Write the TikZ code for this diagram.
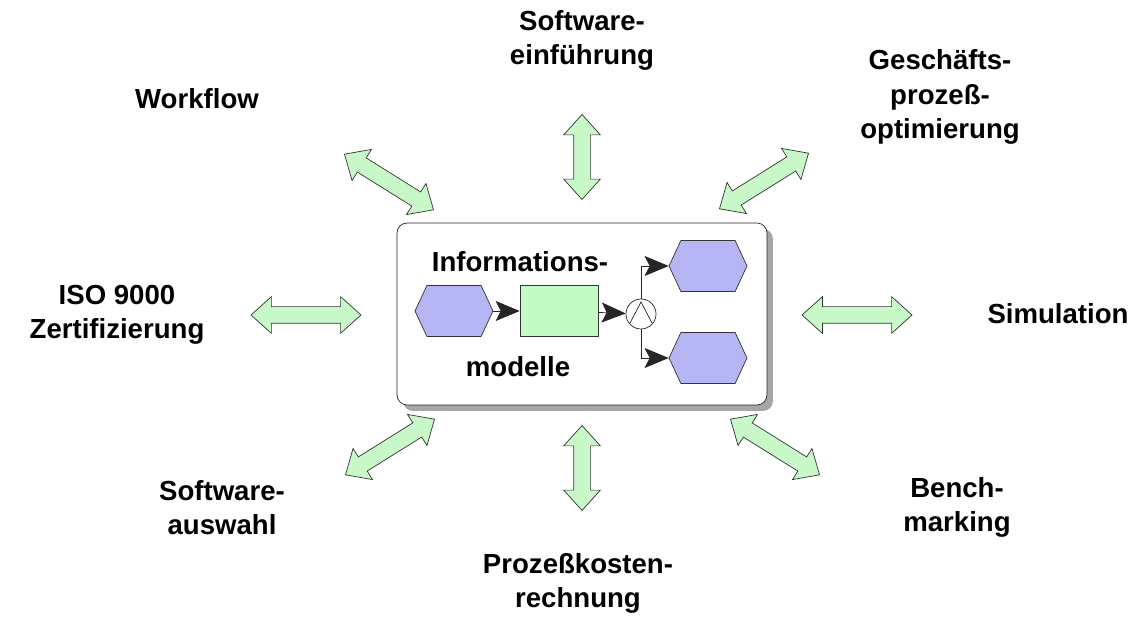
\documentclass[tikz,border=0pt]{standalone}
\usepackage{fontspec}
\setmainfont{Liberation Sans}
\usetikzlibrary{arrows.meta, positioning, calc, shadows, shapes.arrows, shapes.symbols}
\definecolor{ereignis}{RGB}{182,182,245}
\definecolor{funktion}{RGB}{196,250,196}
\definecolor{pfeilgruen}{RGB}{200,248,200}

\begin{document}
\begin{tikzpicture}[x=0.02cm, y=-0.02cm,
        font=\fontsize{15.7}{19.4}\selectfont\bfseries,
        lbl/.style={align=center, inner sep=0pt},
        dpfeil/.style={double arrow, draw=black!80, fill=pfeilgruen, inner xsep=0pt, inner ysep=0.16cm,
                  minimum height=2.2cm, double arrow head extend=0.2cm, double arrow tip angle=84},
        ev/.style={signal, signal to=east and west, signal pointer angle=130, draw=black!80,
                  fill=ereignis, inner sep=0pt, minimum width=1.56cm, minimum height=1.02cm},
        fn/.style={rectangle, draw=black!80, fill=funktion, inner sep=0pt,
                  minimum width=1.56cm, minimum height=1.02cm},
        pf/.style={-{Stealth[length=0.48cm, width=0.4cm, inset=0.1cm]}, black!85}]
        \useasboundingbox (0,0) rectangle (1138,617);

        % Rahmen mit Modell
        \node[rectangle, rounded corners=0.2cm, draw=black!85, fill=white,
              minimum width=7.4cm, minimum height=3.64cm,
              drop shadow={shadow xshift=0.12cm, shadow yshift=-0.12cm, fill=black!35, opacity=1}]
              (rahmen) at (582,314) {};
        \node[ev] (hexIn)   at (454,311) {};
        \node[fn] (fkt)     at (559,311) {};
        \node[circle, draw=black!85, fill=white, minimum size=0.6cm, inner sep=0pt] (und) at (641,314) {};
        \node[ev] (hexOben) at (708,266) {};
        \node[ev] (hexUnten) at (708,358) {};
        \draw[black!85] ($(und.center)+(-11,9)$) -- ($(und.center)+(0,-12)$) -- ($(und.center)+(11,9)$);
        \node[lbl] (tInfo) at (520,262) {Informations-};
        \node[lbl] (tMod)  at (518,367) {modelle};
        \draw[pf] (hexIn) -- (fkt);
        \draw[pf] (fkt) -- (und);
        \draw[pf] (und.north) |- (hexOben.west);
        \draw[pf] (und.south) |- (hexUnten.west);

        % Doppelpfeile
        \node[dpfeil, rotate=90, minimum height=1.7cm] (pO)  at (582,157) {};
        \node[dpfeil, rotate=90, minimum height=1.7cm] (pU)  at (582,468) {};
        \node[dpfeil] (pL)  at (306,315) {};
        \node[dpfeil] (pR)  at (857,315) {};
        \node[dpfeil, rotate=-32, minimum height=2.1cm] (pOL) at (389,182) {};
        \node[dpfeil, rotate=32, minimum height=2.1cm]  (pOR) at (764,181) {};
        \node[dpfeil, rotate=32, minimum height=2.1cm]  (pUL) at (390,447) {};
        \node[dpfeil, rotate=-32, minimum height=2.1cm] (pUR) at (775,447) {};

        % Themen
        \node[lbl] (lEinf)  at (582,40)  {Software-\\einführung};
        \node[lbl] (lWork)  at (197,99)  {Workflow};
        \node[lbl] (lGpo)   at (940,97)  {Geschäfts-\\prozeß-\\optimierung};
        \node[lbl] (lIso)   at (117,315) {ISO 9000\\Zertifizierung};
        \node[lbl] (lSim)   at (1058,314) {Simulation};
        \node[lbl] (lAusw)  at (222,508) {Software-\\auswahl};
        \node[lbl] (lPkr)   at (578,583) {Prozeßkosten-\\rechnung};
        \node[lbl] (lBench) at (957,507) {Bench-\\marking};
    \end{tikzpicture}
\end{document}
